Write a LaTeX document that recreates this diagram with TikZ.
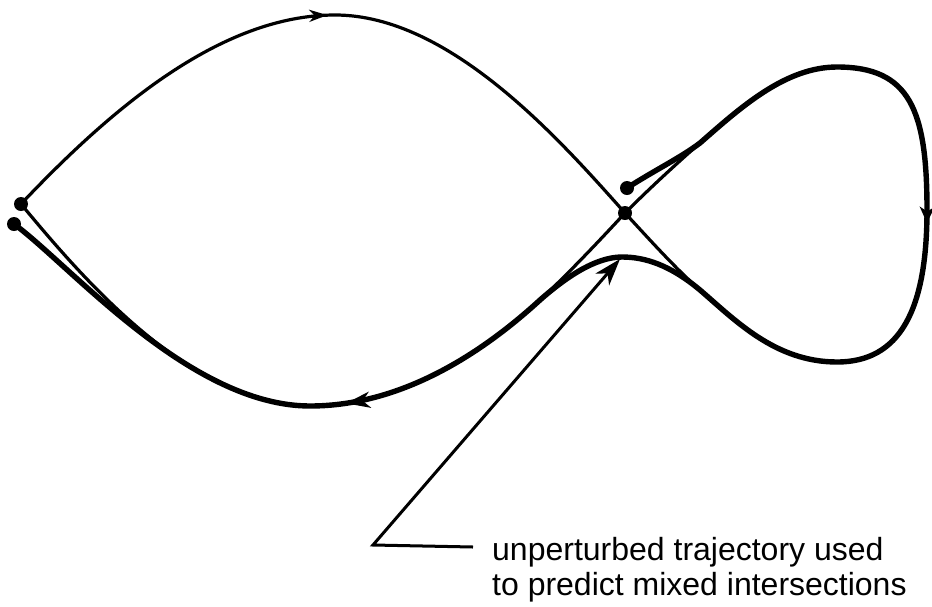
\documentclass[tikz,border=0pt]{standalone}
\usepackage{fontspec}
\setmainfont{Liberation Sans}
\usetikzlibrary{arrows.meta, decorations.markings}
\tikzset{
  orbit thin/.style={line width=3.2pt, line cap=round, line join=round},
  orbit thick/.style={line width=5.4pt, line cap=round, line join=round},
  orbit dot/.style={circle, fill=black, inner sep=0pt, minimum size=14pt},
  orbit arrow/.style n args={3}{
    postaction={decorate, decoration={markings,
      mark=at position #1 with {\arrow{Stealth[length=#2, width=#3, inset=0.3*#2]}}}}
  },
  note line/.style={line width=3pt, -{Stealth[length=27pt, width=18pt, inset=8pt]}},
  note text/.style={font=\fontsize{32pt}{35pt}\selectfont, align=left, inner sep=0pt}
}
\begin{document}
\begin{tikzpicture}[x=1pt,y=-1pt]
\useasboundingbox (0,0) rectangle (932,606);

% end points of both trajectories
\node[orbit dot] (start) at (21,204) {};
\node[orbit dot] (finish) at (14,224) {};
\node[orbit dot] (saddle) at (625,213) {};
\node[orbit dot] (kick) at (627,188) {};

% unperturbed trajectory
\draw[orbit thin, orbit arrow={0.5}{18pt}{12pt}]
  (start.center) .. controls (110,110) and (220,15) .. (335,15)
  .. controls (450,15) and (560,140) .. (saddle.center);
\draw[orbit thin]
  (saddle.center) .. controls (650,240) and (675,268) .. (700,290)
  .. controls (735,320) and (775,362) .. (837,362)
  .. controls (900,362) and (927,310) .. (927,210)
  .. controls (927,110) and (910,67) .. (837,67)
  .. controls (785,67) and (740,108) .. (700,143)
  .. controls (675,165) and (650,188) .. (saddle.center)
  .. controls (600,240) and (570,272) .. (540,300)
  .. controls (480,355) and (400,406) .. (310,406)
  .. controls (190,406) and (80,275) .. (start.center);

% perturbed trajectory
\draw[orbit thick, orbit arrow={0.285}{16pt}{15pt}, orbit arrow={0.755}{24pt}{16pt}]
  (kick.center) .. controls (655,170) and (680,158) .. (700,143)
  .. controls (740,108) and (785,67) .. (837,67)
  .. controls (910,67) and (927,110) .. (927,210)
  .. controls (927,310) and (900,362) .. (837,362)
  .. controls (775,362) and (735,320) .. (700,290)
  .. controls (670,265) and (645,257) .. (622,257)
  .. controls (595,257) and (565,278) .. (540,300)
  .. controls (480,355) and (400,406) .. (310,406)
  .. controls (190,406) and (70,265) .. (finish.center);

% annotation
\node[note text, anchor=base west] (note) at (492,595)
  {unperturbed trajectory used\\to predict mixed intersections};
\coordinate (lead) at (473,547);
\coordinate (bend) at (373,545);
\coordinate (hump) at (620,259);
\draw[note line] (lead) -- (bend) -- (hump);
\end{tikzpicture}
\end{document}
